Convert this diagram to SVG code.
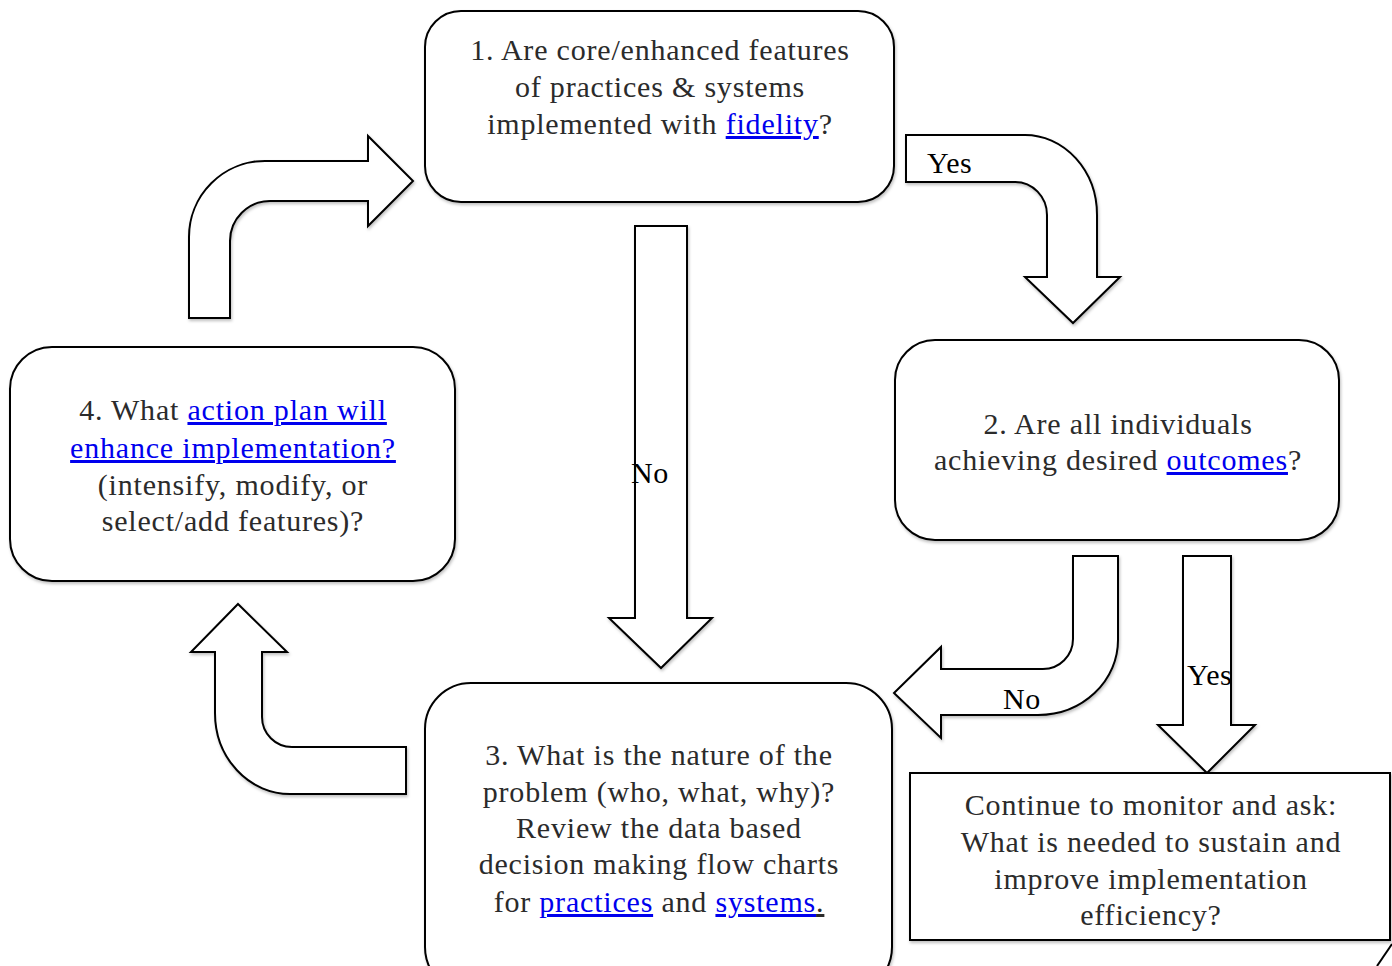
<svg xmlns="http://www.w3.org/2000/svg" width="1392" height="966" viewBox="0 0 1392 966">
<defs>
<filter id="sh" x="-10%" y="-10%" width="120%" height="120%">
<feDropShadow dx="1" dy="2" stdDeviation="1.5" flood-color="#000" flood-opacity="0.25"/>
</filter>
<style>
.box{fill:#fff;stroke:#000;stroke-width:2;filter:url(#sh)}
.arr{fill:#fff;stroke:#000;stroke-width:2;stroke-linejoin:miter;filter:url(#sh)}
.t{font-family:"Liberation Serif","Times New Roman",serif;font-size:30px;letter-spacing:0.8px;fill:#2b2b2b;text-anchor:middle}
.lab{font-family:"Liberation Serif","Times New Roman",serif;font-size:30px;letter-spacing:0.5px;fill:#000}
.lk{fill:#0000ee;text-decoration:underline}
.ul{text-decoration:underline}
</style>
</defs>
<rect width="1392" height="966" fill="#fff"/>
<g id="connectors">
<path class="arr" d="M189,318 L189,237 A76,76 0 0 1 265,161 L368,161 L368,136 L413,181 L368,226 L368,201 L270,201 A40,40 0 0 0 230,241 L230,318 Z"/>
<path class="arr" d="M906,135 L1025,135 A72,80 0 0 1 1097,215 L1097,277 L1120,277 L1073,323 L1025,277 L1047,277 L1047,215 A32,33 0 0 0 1015,182 L906,182 Z"/>
<path class="arr" d="M635,226 L687,226 L687,618 L712,618 L661,668 L609,618 L635,618 Z"/>
<path class="arr" d="M1073,556 L1118,556 L1118,640 A80,75 0 0 1 1038,715 L941,715 L941,738 L894,693 L941,647 L941,669 L1043,669 A30,30 0 0 0 1073,639 Z"/>
<path class="arr" d="M1183,556 L1231,556 L1231,725 L1255,725 L1207,773 L1158,725 L1183,725 Z"/>
<path class="arr" d="M238,604 L287,652 L262,652 L262,717 A30,30 0 0 0 292,747 L406,747 L406,794 L290,794 A75,81 0 0 1 215,713 L215,652 L191,652 Z"/>
<text class="lab" x="927" y="173">Yes</text>
<text class="lab" x="631" y="483">No</text>
<text class="lab" x="1003" y="709">No</text>
<text class="lab" x="1187" y="685">Yes</text>
<line x1="1392" y1="944" x2="1377" y2="966" stroke="#000" stroke-width="2"/>
</g>
<g id="node1">
<rect class="box" x="425" y="11" width="469" height="191" rx="36" ry="36"/>
<text class="t" x="660" y="60">1. Are core/enhanced features</text>
<text class="t" x="660" y="97">of practices &amp; systems</text>
<text class="t" x="660" y="134">implemented with <tspan class="lk">fidelity</tspan>?</text>
</g>
<g id="node2">
<rect class="box" x="895" y="340" width="444" height="200" rx="40" ry="40"/>
<text class="t" x="1118" y="434">2. Are all individuals</text>
<text class="t" x="1118" y="470">achieving desired <tspan class="lk">outcomes</tspan>?</text>
</g>
<g id="node4">
<rect class="box" x="10" y="347" width="445" height="234" rx="42" ry="42"/>
<text class="t" x="233" y="420">4. What <tspan class="lk">action plan will</tspan></text>
<text class="t" x="233" y="458"><tspan class="lk">enhance implementation?</tspan></text>
<text class="t" x="233" y="495">(intensify, modify, or</text>
<text class="t" x="233" y="531">select/add features)?</text>
</g>
<g id="node3">
<rect class="box" x="425" y="683" width="467" height="310" rx="46" ry="46"/>
<text class="t" x="659" y="765">3. What is the nature of the</text>
<text class="t" x="659" y="802">problem (who, what, why)?</text>
<text class="t" x="659" y="838">Review the data based</text>
<text class="t" x="659" y="874">decision making flow charts</text>
<text class="t" x="659" y="912">for <tspan class="lk">practices</tspan> and <tspan class="lk">systems</tspan><tspan class="ul">.</tspan></text>
</g>
<g id="node5">
<rect class="box" x="910" y="773" width="480" height="167"/>
<text class="t" x="1151" y="815">Continue to monitor and ask:</text>
<text class="t" x="1151" y="852">What is needed to sustain and</text>
<text class="t" x="1151" y="889">improve implementation</text>
<text class="t" x="1151" y="925">efficiency?</text>
</g>
</svg>
